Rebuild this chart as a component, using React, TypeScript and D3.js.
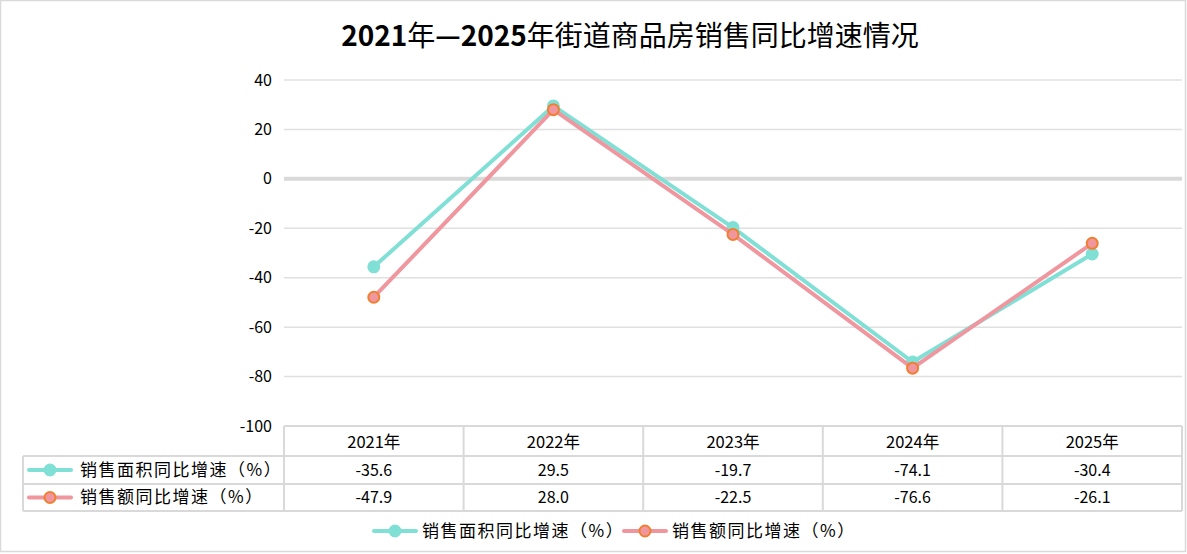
import React from "react";
import * as d3 from "d3";

const categories = ["2021年", "2022年", "2023年", "2024年", "2025年"];
const areaGrowth = [-35.6, 29.5, -19.7, -74.1, -30.4];
const amountGrowth = [-47.9, 28.0, -22.5, -76.6, -26.1];
const seriesNames = ["销售面积同比增速（%）", "销售额同比增速（%）"];
const yTicks = [40, 20, 0, -20, -40, -60, -80, -100];
const title = "2021年—2025年街道商品房销售同比增速情况";

const W = 1187;
const H = 554;
const FONT = "'Noto Sans CJK SC', 'Noto Sans', sans-serif";
const TEAL = "#80e0d6";
const PINK = "#f0969e";
const ORANGE = "#f08030";

export default function App() {
  const left = 284;
  const right = 1182;
  const top = 80;
  const bottom = 426;
  const x = d3.scaleBand<string>().domain(categories).range([left, right]);
  const y = d3.scaleLinear().domain([-100, 40]).range([bottom, top]);
  const cx = (c: string) => (x(c) as number) + x.bandwidth() / 2;
  const line = d3
    .line<number>()
    .x((_, i) => cx(categories[i]))
    .y((d) => y(d));

  const rowTop = [426, 456, 484, 511];
  const tableLeft = 23;
  const series = [
    { name: seriesNames[0], values: areaGrowth, color: TEAL, stroke: TEAL },
    { name: seriesNames[1], values: amountGrowth, color: PINK, stroke: ORANGE },
  ];

  const titleRuns: { t: string; bold: boolean }[] = [];
  for (const ch of title) {
    const bold = /[0-9—]/.test(ch);
    const last = titleRuns[titleRuns.length - 1];
    if (last && last.bold === bold) last.t += ch;
    else titleRuns.push({ t: ch, bold });
  }

  const marker = (s: typeof series[number], mx: number, my: number) => (
    <g>
      <line x1={mx - 21} x2={mx + 21} y1={my} y2={my} stroke={s.color} strokeWidth={4} strokeLinecap="round" />
      <circle cx={mx} cy={my} r={5.5} fill={s.color} stroke={s.stroke} strokeWidth={2} />
    </g>
  );

  const label = (name: string, lx: number, ly: number) => (
    <text x={lx} y={ly} dy="0.35em" fontSize={17} fill="#000" letterSpacing={1.5}>
      {name}
    </text>
  );

  return (
    <svg
      width={W}
      height={H}
      style={{ position: "absolute", left: 0, top: 0, background: "#fff" }}
      fontFamily={FONT}
    >
      <rect x={0.5} y={0.5} width={W - 2} height={H - 3} fill="#fff" stroke="#d9d9d9" strokeWidth={1.5} />
      <text x={630} y={46} textAnchor="middle" fontSize={28} fill="#000">
        {titleRuns.map((r, i) => (
          <tspan key={i} fontWeight={r.bold ? "bold" : "normal"}>
            {r.t}
          </tspan>
        ))}
      </text>

      {yTicks.map((t) => (
        <g key={t}>
          {t !== 0 && t !== -100 && (
            <line x1={left} x2={right} y1={y(t)} y2={y(t)} stroke="#e0e0e0" strokeWidth={1.5} />
          )}
          <text x={272} y={y(t)} dy="0.35em" textAnchor="end" fontSize={16} fill="#000">
            {t}
          </text>
        </g>
      ))}
      <line x1={left} x2={right} y1={y(0)} y2={y(0)} stroke="#d9d9d9" strokeWidth={4} />

      {/* table */}
      <g stroke="#d9d9d9" strokeWidth={2} fill="none">
        <line x1={left} x2={right} y1={rowTop[0]} y2={rowTop[0]} />
        {rowTop.slice(1).map((r) => (
          <line key={r} x1={tableLeft} x2={right} y1={r} y2={r} />
        ))}
        <line x1={tableLeft} x2={tableLeft} y1={rowTop[1]} y2={rowTop[3]} />
        {categories.map((c) => (
          <line key={c} x1={x(c) as number} x2={x(c) as number} y1={rowTop[0]} y2={rowTop[3]} />
        ))}
        <line x1={right} x2={right} y1={rowTop[0]} y2={rowTop[3]} />
      </g>
      {categories.map((c) => (
        <text key={c} x={cx(c)} y={(rowTop[0] + rowTop[1]) / 2 + 1} dy="0.35em" textAnchor="middle" fontSize={16.5} fill="#000">
          {c}
        </text>
      ))}
      {series.map((s, si) => {
        const my = (rowTop[si + 1] + rowTop[si + 2]) / 2;
        return (
          <g key={s.name}>
            {marker(s, 50, my)}
            {label(s.name, 80, my)}
            {s.values.map((v, i) => (
              <text key={i} x={cx(categories[i])} y={my} dy="0.35em" textAnchor="middle" fontSize={16} fill="#000">
                {v.toFixed(1)}
              </text>
            ))}
          </g>
        );
      })}

      {/* lines */}
      {series.map((s) => (
        <g key={s.name}>
          <path d={line(s.values) || ""} fill="none" stroke={s.color} strokeWidth={4} strokeLinejoin="round" />
          {s.values.map((v, i) => (
            <circle key={i} cx={cx(categories[i])} cy={y(v)} r={5.5} fill={s.color} stroke={s.stroke} strokeWidth={2} />
          ))}
        </g>
      ))}

      {/* legend */}
      {series.map((s, i) => {
        const lx = i === 0 ? 395 : 645;
        const ly = 531;
        return (
          <g key={s.name}>
            {marker(s, lx, ly)}
            {label(s.name, lx + 27, ly)}
          </g>
        );
      })}
    </svg>
  );
}
